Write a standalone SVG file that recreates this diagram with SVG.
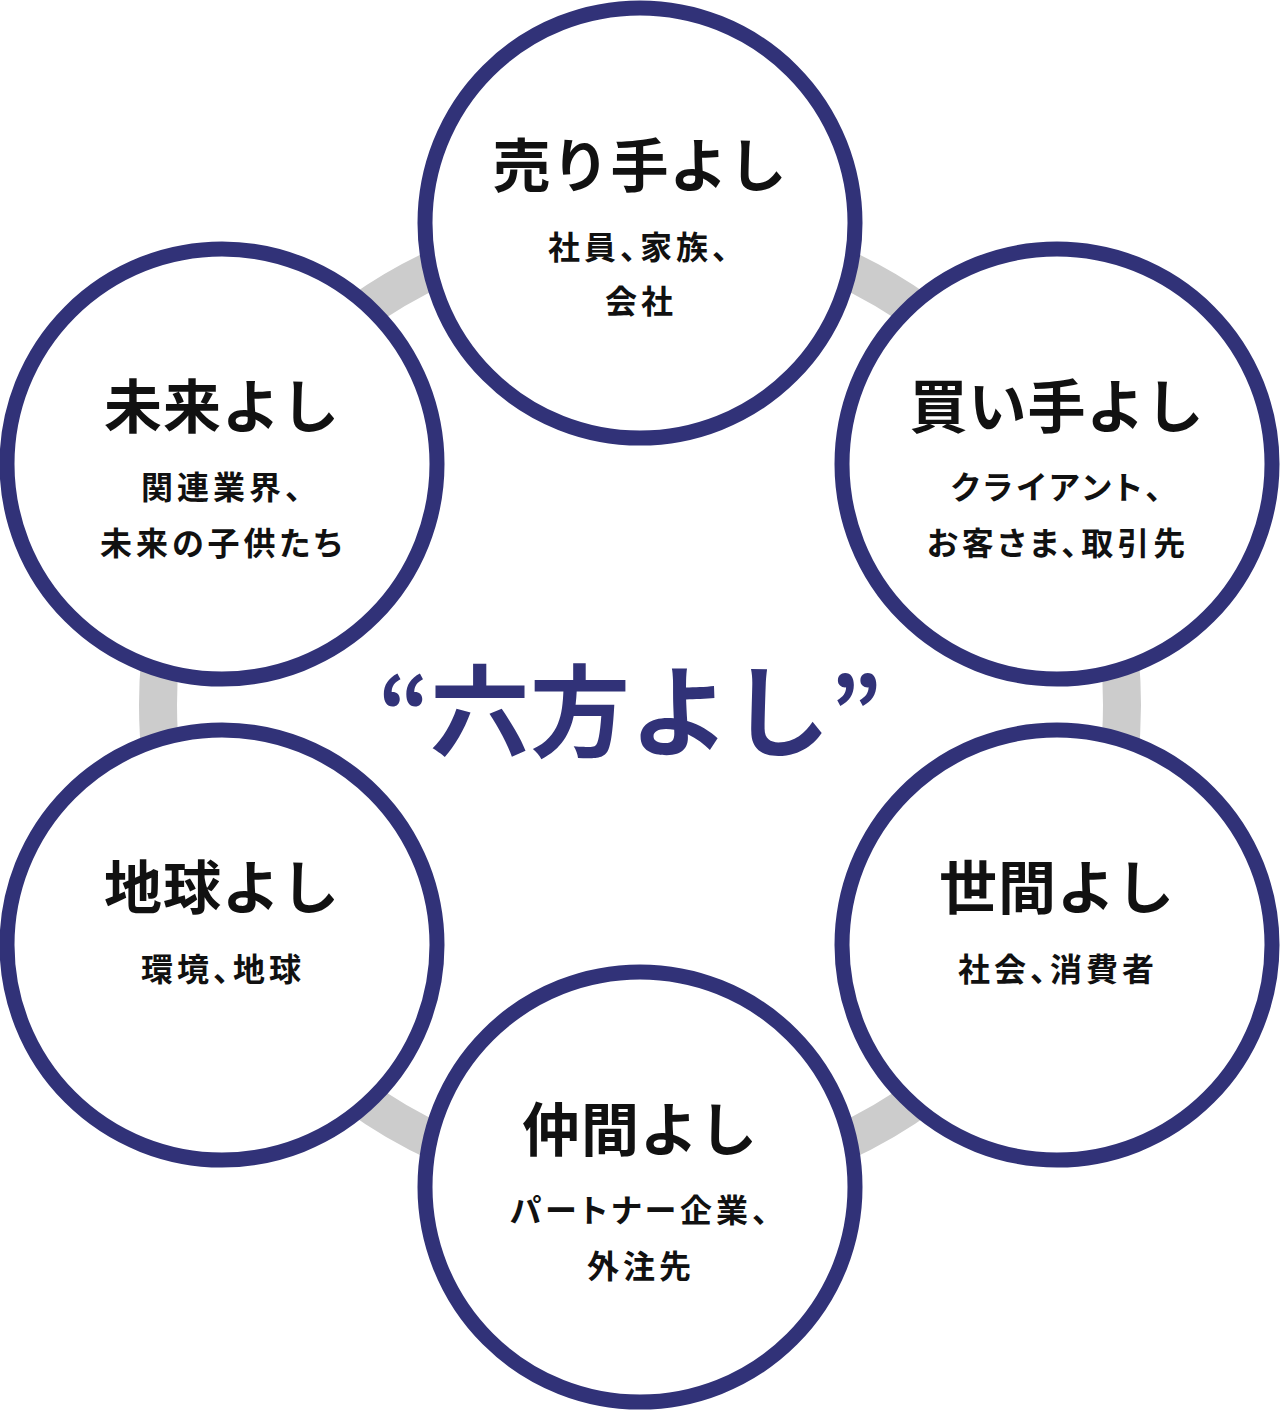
<svg xmlns="http://www.w3.org/2000/svg" width="1280" height="1410" viewBox="0 0 1280 1410">
<style>
.node circle{fill:#fff;stroke:#313278;stroke-width:15}
text{font-family:"Noto Sans CJK JP","Noto Sans CJK SC",sans-serif;text-anchor:middle;dominant-baseline:central;fill:#111}
.t{font-size:58px;font-weight:700;letter-spacing:1px}
.s{font-size:32px;font-weight:700;letter-spacing:4px;font-feature-settings:"palt"}
.big{font-size:100px;font-weight:700;fill:#313278}
</style>
<rect width="1280" height="1410" fill="#fff"/>
<g id="connectors">
<circle cx="640" cy="705" r="482" fill="none" stroke="#cccccc" stroke-width="38"/>
</g>
<g id="n-uri" class="node"><circle cx="640" cy="223" r="215"/><text class="t" x="640" y="162">売り手よし</text><text class="s" x="640" y="245">社員、家族、</text><text class="s" x="641" y="299">会社</text></g>
<g id="n-kai" class="node"><circle cx="1057" cy="464" r="215"/><text class="t" x="1057" y="403">買い手よし</text><text class="s" x="1058" y="485">クライアント、</text><text class="s" x="1058" y="541">お客さま、取引先</text></g>
<g id="n-seken" class="node"><circle cx="1057" cy="945" r="215"/><text class="t" x="1057" y="884">世間よし</text><text class="s" x="1058" y="967">社会、消費者</text></g>
<g id="n-nakama" class="node"><circle cx="640" cy="1187" r="215"/><text class="t" x="640" y="1126">仲間よし</text><text class="s" x="641" y="1208">パートナー企業、</text><text class="s" x="641" y="1264">外注先</text></g>
<g id="n-chikyu" class="node"><circle cx="222" cy="945" r="215"/><text class="t" x="222" y="884">地球よし</text><text class="s" x="223" y="967">環境、地球</text></g>
<g id="n-mirai" class="node"><circle cx="222" cy="464" r="215"/><text class="t" x="222" y="403">未来よし</text><text class="s" x="223" y="485">関連業界、</text><text class="s" x="223" y="541">未来の子供たち</text></g>
<g id="title"><text class="big" x="630" y="705"><tspan x="404" font-size="90">“</tspan><tspan x="630">六方よし</tspan><tspan x="856" font-size="90">”</tspan></text></g>
</svg>
